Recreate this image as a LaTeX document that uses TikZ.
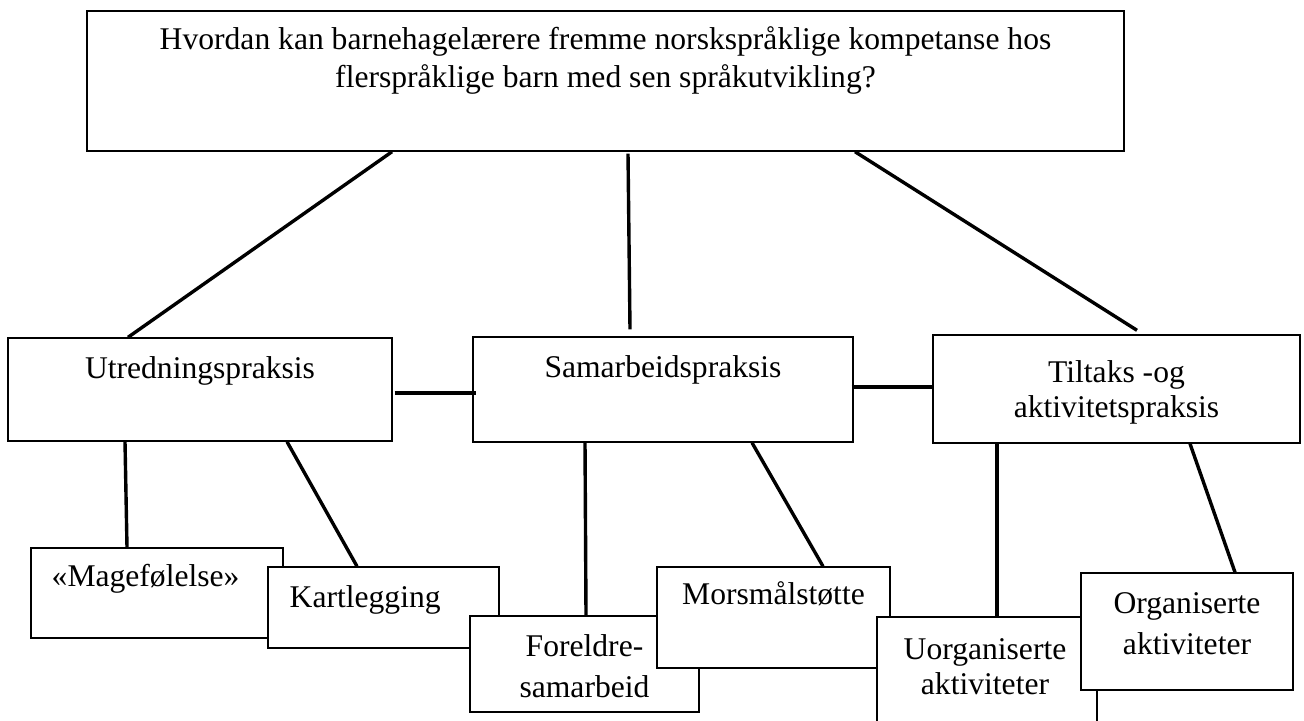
\documentclass[tikz,border=0pt]{standalone}
\usepackage{fontspec}
\setmainfont{Liberation Serif}
\usepackage{xcolor}
\definecolor{cLine}{HTML}{000000}
\usepackage{tikz}
\usetikzlibrary{positioning,fit}
\tikzset{
  node-box/.style={draw=cLine,line width=0.7pt,fill=white,inner sep=0pt},
  node-text/.style={inner sep=0pt,align=center,font=\fontsize{15.8}{17.5}\selectfont},
  node-text-wide/.style={node-text,font=\fontsize{15.8}{20.5}\selectfont},
  % connectors are plain thick strokes, no tips
  link/.style={draw=cLine,line width=1.7pt},
}

\begin{document}
\begin{tikzpicture}[x=0.5pt,y=-0.5pt]
  \useasboundingbox (0,0) rectangle (1304,720);
  % research question (base = last line of a two-line text)
  \node[node-box,fit={(87,11) (1124,151)}] (q) {};
  \node[node-text,font=\fontsize{15.8}{19}\selectfont,anchor=base] (q-t) at ([yshift=-38.5pt]q.north)
    {Hvordan kan barnehagelærere fremme norskspråklige kompetanse hos\\flerspråklige barn med sen språkutvikling?};
  % three practices
  \node[node-box,fit={(8,338) (392,441)}] (utr) {};
  \node[node-text,anchor=base] (utr-t) at ([yshift=-20.5pt]utr.north) {Utredningspraksis};
  \node[node-box,fit={(473,337) (853,442)}] (sam) {};
  \node[node-text,anchor=base] (sam-t) at ([yshift=-20.5pt]sam.north) {Samarbeidspraksis};
  \node[node-box,fit={(933,335) (1300,443)}] (tilt) {};
  \node[node-text,anchor=base] (tilt-t) at ([yshift=-41.5pt]tilt.north) {Tiltaks -og\\aktivitetspraksis};
  % sub-practices, each one laid over the one before
  \node[node-box,fit={(31,548) (283,638)}] (mage) {};
  \node[node-text,anchor=base west] (mage-t) at ([xshift=10.5pt,yshift=-19.5pt]mage.north west) {«Magefølelse»};
  \node[node-box,fit={(268,567) (499,648)}] (kart) {};
  \node[node-text,anchor=base west] (kart-t) at ([xshift=11pt,yshift=-20.5pt]kart.north west) {Kartlegging};
  \node[node-box,fit={(470,616) (699,712)}] (fore) {};
  \node[node-text-wide,anchor=base] (fore-t) at ([yshift=-41pt]fore.north) {Foreldre-\\samarbeid};
  \node[node-box,fit={(657,567) (890,668)}] (mors) {};
  \node[node-text,anchor=base] (mors-t) at ([yshift=-19pt]mors.north) {Morsmålstøtte};
  \node[node-box,fit={(877,617) (1097,780)}] (uorg) {};
  \node[node-text,anchor=base] (uorg-t) at ([xshift=-1pt,yshift=-39pt]uorg.north) {Uorganiserte\\aktiviteter};
  \node[node-box,fit={(1081,573) (1293,690)}] (org) {};
  \node[node-text-wide,anchor=base] (org-t) at ([yshift=-41pt]org.north) {Organiserte\\aktiviteter};

  \draw[link] ([xshift=-106.75pt]q.south) -- ([xshift=-36pt]utr.north);
  \draw[link] ([xshift=11.25pt,yshift=-1pt]q.south) -- ([xshift=-16.5pt,yshift=3.5pt]sam.north);
  \draw[link] ([xshift=124.75pt]q.south) -- ([xshift=10.25pt,yshift=2pt]tilt.north);
  \draw[link] ([shift={(1pt,-1.75pt)}]utr.east) -- ([shift={(2pt,-1.75pt)}]sam.west);
  \draw[link] ([shift={(-1pt,1.25pt)}]sam.east) -- ([yshift=1pt]tilt.west);
  \draw[link] ([xshift=-37.5pt]utr.south) -- ([xshift=-15pt]mage.north);
  \draw[link] ([xshift=43.5pt]utr.south) -- ([xshift=-13.25pt]kart.north);
  \draw[link] ([xshift=-39pt]sam.south) -- ([xshift=0.75pt]fore.north);
  \draw[link] ([xshift=44.5pt]sam.south) -- ([xshift=24.75pt]mors.north);
  \draw[link] ([xshift=-59.75pt]tilt.south) -- ([xshift=5pt]uorg.north);
  \draw[link] ([xshift=36.75pt]tilt.south) -- ([xshift=24pt]org.north);
\end{tikzpicture}
\end{document}
